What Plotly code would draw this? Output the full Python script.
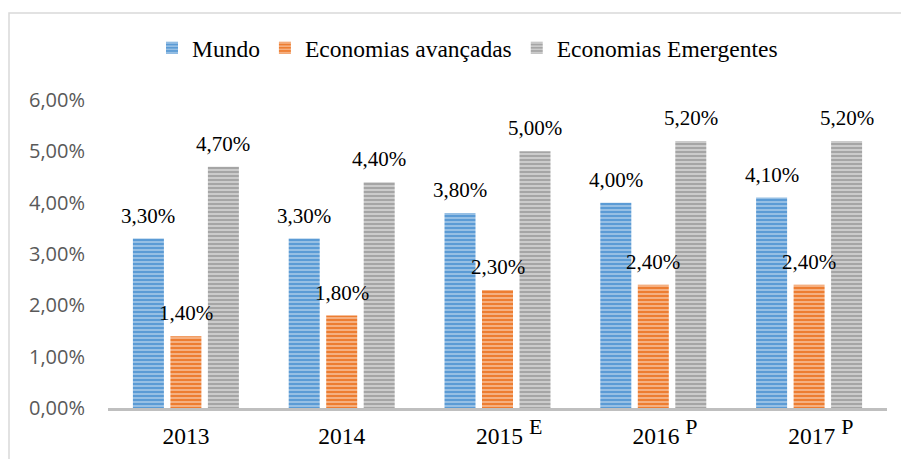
import plotly.graph_objects as go

years = ["2013", "2014", "2015", "2016", "2017"]
year_marks = ["", "", "E", "P", "P"]
series_names = ["Mundo", "Economias avançadas", "Economias Emergentes"]
mundo = [0.033, 0.033, 0.038, 0.040, 0.041]
avancadas = [0.014, 0.018, 0.023, 0.024, 0.024]
emergentes = [0.047, 0.044, 0.050, 0.052, 0.052]
y_ticks = [0, 0.01, 0.02, 0.03, 0.04, 0.05, 0.06]

series_values = [mundo, avancadas, emergentes]
base_colors = ["#5B9BD5", "#ED7D31", "#A5A5A5"]
stripe_colors = ["#9DC3E6", "#F6B68A", "#D0D0D0"]

SERIF = "Liberation Serif, Times New Roman, serif"
SANS = "Open Sans, DejaVu Sans, sans-serif"

fig = go.Figure()
for name, vals, bc, sc in zip(series_names, series_values, base_colors, stripe_colors):
    fig.add_trace(go.Bar(
        name=name, x=years, y=vals,
        marker=dict(color=bc, line=dict(width=0),
                    pattern=dict(shape="-", fillmode="replace", bgcolor=bc,
                                 fgcolor=sc, size=4, solidity=0.45)),
    ))

def fmt_pct(v):
    return f"{v*100:.2f}%".replace(".", ",")

slot_px = 37.5
annotations = []
for k, vals in enumerate(series_values):
    for i, v in enumerate(vals):
        annotations.append(dict(
            x=i, y=v, xref="x", yref="y", text=fmt_pct(v), showarrow=False,
            xshift=(k - 1) * slot_px, yshift=23, yanchor="middle", xanchor="center",
            font=dict(family=SERIF, size=21, color="#000000"),
        ))

tick_text = []
for yr, m in zip(years, year_marks):
    if m:
        tick_text.append("\u00a0\u00a0\u00a0\u00a0" + yr + " <sup><span style='font-size:22px'>" + m + "</span></sup>")
    else:
        tick_text.append(yr)

L, R, T, B = 108, 14, 100, 51
W, H = 901, 459
pw, ph = W - L - R, H - T - B

fig.add_shape(type="rect", xref="paper", yref="paper",
              x0=(9 - L) / pw, x1=(W + 5 - L) / pw,
              y0=(H - B - (H + 5)) / ph, y1=(H - B - 13) / ph,
              line=dict(color="#D9D9D9", width=1.5), fillcolor="rgba(0,0,0,0)", layer="below")

fig.update_layout(
    width=W, height=H,
    margin=dict(l=L, r=R, t=T, b=B, autoexpand=False),
    paper_bgcolor="white", plot_bgcolor="white",
    barmode="group", bargap=0.278, bargroupgap=0.173,
    separators=",.",
    annotations=annotations,
    showlegend=True,
    legend=dict(orientation="h", x=(467.5 - L) / pw, xanchor="center",
                y=(H - B - 48) / ph, yanchor="middle",
                font=dict(family=SERIF, size=23.5, color="#000000"),
                bgcolor="rgba(0,0,0,0)"),
    xaxis=dict(type="category", range=[-0.5, len(years) - 0.5],
               tickmode="array", tickvals=years, ticktext=tick_text,
               showline=True, linecolor="#BFBFBF", linewidth=3,
               showgrid=False, ticks="outside", ticklen=5, tickcolor="rgba(0,0,0,0)",
               tickangle=0,
               tickfont=dict(family=SERIF, size=23.5, color="#000000")),
    yaxis=dict(range=[0, 0.06], tickmode="array", tickvals=y_ticks, tickformat=".2%",
               showgrid=False, showline=False, zeroline=False,
               ticks="outside", ticklen=18, tickcolor="rgba(0,0,0,0)",
               tickfont=dict(family=SANS, size=20, color="#595959")),
)

fig.write_html("out.html", config={"displayModeBar": False},
               post_script="document.body.style.margin='0px';")
